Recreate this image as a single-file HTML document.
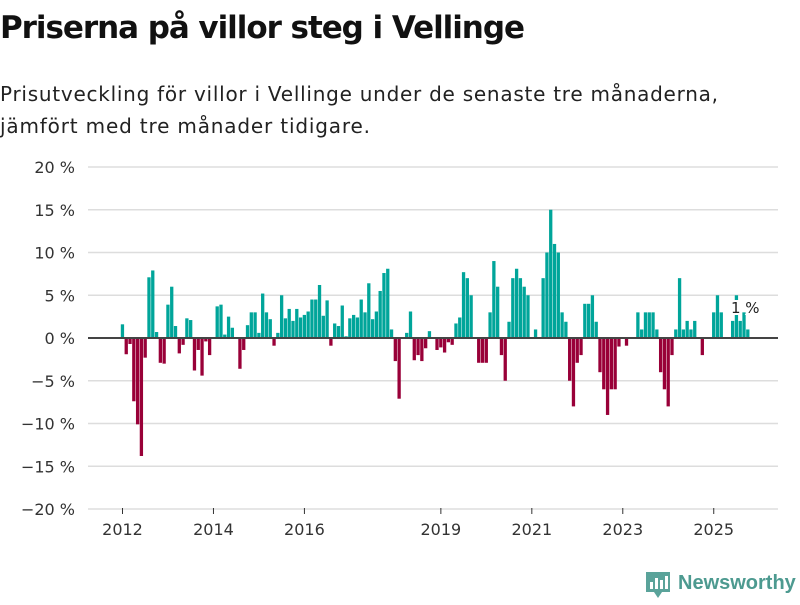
<!DOCTYPE html>
<html><head><meta charset="utf-8"><style>
body{margin:0;width:800px;height:600px;background:#fff;font-family:"Liberation Sans","DejaVu Sans",sans-serif;overflow:hidden}
</style></head><body>
<svg width="800" height="600" xmlns="http://www.w3.org/2000/svg">
<text x="0" y="38" font-size="31" font-weight="bold" fill="#111" font-family="DejaVu Sans, sans-serif" textLength="525">Priserna på villor steg i Vellinge</text>
<text x="0" y="101" font-size="20" fill="#222" font-family="DejaVu Sans, sans-serif" textLength="718">Prisutveckling för villor i Vellinge under de senaste tre månaderna,</text>
<text x="0" y="133" font-size="20" fill="#222" font-family="DejaVu Sans, sans-serif" textLength="370">jämfört med tre månader tidigare.</text>
<g id="grid"></g>
<g id="bars"></g>
<line x1="88" x2="778" y1="338" y2="338" stroke="#444" stroke-width="2"/>
<g id="xaxis"></g>
<text x="731" y="313" font-size="15" fill="#222" stroke="#fff" stroke-width="4" paint-order="stroke" font-family="DejaVu Sans, sans-serif">1 %</text>
<g>
<path d="M646 572 h24 v20 h-8 l-4 6 l-4 -6 h-8 z" fill="#5aa39a"/>
<rect x="650" y="582" width="3" height="7" fill="#fff"/><rect x="655" y="578" width="3" height="11" fill="#fff"/><rect x="660" y="580" width="3" height="9" fill="#fff"/><rect x="665" y="576" width="3" height="13" fill="#fff"/>
<text x="678" y="589" font-size="20" font-weight="bold" fill="#4d9a90" font-family="Liberation Sans, sans-serif">Newsworthy</text>
</g>
</svg>
<script>
const values=[1.6,-1.9,-0.7,-7.4,-10.1,-13.8,-2.3,7.1,7.9,0.7,-2.9,-3.0,3.9,6.0,1.4,-1.8,-0.8,2.3,2.1,-3.8,-1.4,-4.4,-0.4,-2.0,0,3.7,3.9,0.4,2.5,1.2,0,-3.6,-1.4,1.5,3.0,3.0,0.6,5.2,3.0,2.2,-0.9,
0.6,5.0,2.3,3.4,2.0,3.4,2.4,2.7,3.1,4.5,4.5,6.2,2.6,4.4,-0.9,1.7,1.4,3.8,0.2,2.3,2.7,2.4,4.5,3.0,6.4,2.2,3.1,5.5,7.6,8.1,1.0,-2.7,-7.1,0,0.6,3.1,-2.6,-2.0,-2.7,-1.2,0.8,
0,-1.4,-1.1,-1.7,-0.5,-0.8,1.7,2.4,7.7,7.0,5.0,0,-2.9,-2.9,-2.9,3.0,9.0,6.0,-2.0,-5.0,1.9,7.0,8.1,7.0,6.0,5.0,0,1.0,0,7.0,10.0,15.0,11.0,10.0,3.0,1.9,-5.0,-8.0,-2.9,-2.0,
4.0,4.0,5.0,1.9,-4.0,-6.0,-9.0,-6.0,-6.0,-1.0,0,-0.9,0,0,3.0,1.0,3.0,3.0,3.0,1.0,-4.0,-6.0,-8.0,-2.0,1.0,7.0,1.0,2.0,1.0,2.0,0,-2.0,0,0,3.0,5.0,3.0,0,0,2.0,5.0,2.0,3.0,1.0];
const yTicks=[20,15,10,5,0,-5,-10,-15,-20];
const xLabels=["2012","2014","2016","2019","2021","2023","2025"];
const xLabelMonths=[0,24,48,84,108,132,156];
const NS="http://www.w3.org/2000/svg";
function y(v){return 338-v*8.55;}
function x(m){return 122.5+m*3.79;}
const grid=document.getElementById('grid');
yTicks.forEach(t=>{
  if(t!==0){const l=document.createElementNS(NS,'line');
  l.setAttribute('x1',88);l.setAttribute('x2',778);l.setAttribute('y1',y(t));l.setAttribute('y2',y(t));
  l.setAttribute('stroke','#dddddd');l.setAttribute('stroke-width','1.5');
  
  
  grid.appendChild(l);}
  const tx=document.createElementNS(NS,'text');
  tx.setAttribute('x',75);tx.setAttribute('y',y(t)+6);tx.setAttribute('text-anchor','end');
  tx.setAttribute('font-size','16');tx.setAttribute('fill','#333');tx.setAttribute('font-family','DejaVu Sans, sans-serif');
  tx.textContent=(t<0?'\u2212'+(-t):t)+' %';
  
  
  grid.appendChild(tx);
});
const bars=document.getElementById('bars');
values.forEach((v,i)=>{
  if(v===0)return;
  const r=document.createElementNS(NS,'rect');
  r.setAttribute('x',x(i)-1.7);r.setAttribute('width',3.3);
  r.setAttribute('y',Math.min(y(v),y(0)));r.setAttribute('height',Math.abs(y(v)-y(0)));
  r.setAttribute('fill',v>0?'#00a59a':'#990038');
  
  
  bars.appendChild(r);
});
const xa=document.getElementById('xaxis');
xLabels.forEach((lb,i)=>{
  const px=x(xLabelMonths[i]);
  const tk=document.createElementNS(NS,'line');
  tk.setAttribute('x1',px);tk.setAttribute('x2',px);tk.setAttribute('y1',508);tk.setAttribute('y2',514);tk.setAttribute('stroke','#333');
  
  
  xa.appendChild(tk);
  const tx=document.createElementNS(NS,'text');
  tx.setAttribute('x',px);tx.setAttribute('y',535);tx.setAttribute('text-anchor','middle');
  tx.setAttribute('font-size','16');tx.setAttribute('fill','#333');tx.setAttribute('font-family','DejaVu Sans, sans-serif');
  tx.textContent=lb;
  
  
  xa.appendChild(tx);
});
</script>
</body></html>
